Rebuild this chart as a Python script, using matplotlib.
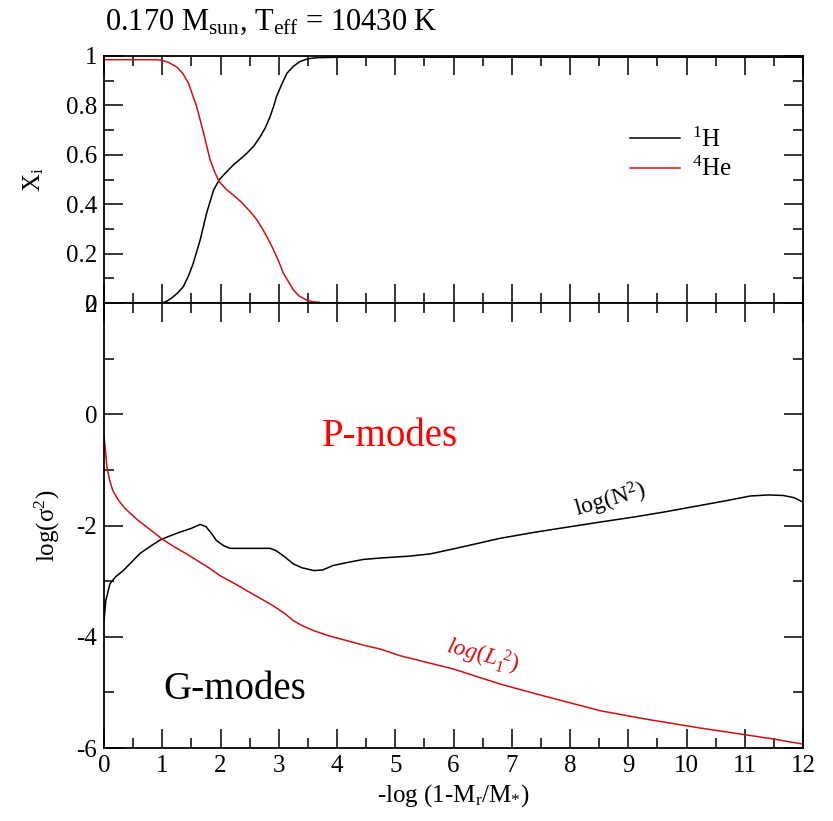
import matplotlib
matplotlib.use("Agg")
import matplotlib.pyplot as plt
from matplotlib.ticker import MultipleLocator, FixedLocator, FixedFormatter

plt.rcParams["font.family"] = ["Liberation Serif", "DejaVu Serif"]
plt.rcParams["mathtext.fontset"] = "custom"
plt.rcParams["mathtext.rm"] = "Liberation Serif"
plt.rcParams["mathtext.it"] = "Liberation Serif:italic"
plt.rcParams["axes.unicode_minus"] = False

# ---- data: composition profile (top)
h_x = [0.0, 1.0, 1.08, 1.16, 1.26, 1.36, 1.45, 1.53, 1.65, 1.76, 1.88, 1.98, 2.1, 2.22,
       2.35, 2.45, 2.57, 2.68, 2.77, 2.85, 2.91, 2.96, 3.05, 3.14, 3.25, 3.36, 3.45,
       3.54, 3.65, 4.0, 12.0]
h_y = [0.0, 0.0, 0.008, 0.02, 0.04, 0.066, 0.11, 0.16, 0.255, 0.363, 0.457, 0.5, 0.53,
       0.559, 0.585, 0.606, 0.635, 0.673, 0.71, 0.754, 0.795, 0.835, 0.885, 0.93, 0.958,
       0.977, 0.985, 0.99, 0.993, 0.995, 0.995]
he_x = [0.0, 0.5, 0.9, 1.0, 1.1, 1.25, 1.35, 1.45, 1.59, 1.71, 1.82, 1.9, 1.98, 2.1,
        2.22, 2.35, 2.51, 2.63, 2.73, 2.82, 2.91, 3.0, 3.08, 3.17, 3.25, 3.35, 3.48,
        3.58, 3.7]
he_y = [0.985, 0.985, 0.985, 0.982, 0.975, 0.955, 0.93, 0.89, 0.795, 0.687, 0.58, 0.53,
        0.49, 0.46, 0.437, 0.41, 0.37, 0.335, 0.296, 0.258, 0.215, 0.168, 0.12, 0.085,
        0.053, 0.028, 0.012, 0.005, 0.003]

# ---- data: propagation diagram (bottom)
n2_x = [0.0, 0.03, 0.1, 0.2, 0.33, 0.47, 0.62, 0.8, 0.98, 1.15, 1.3, 1.5, 1.65, 1.75,
        1.85, 1.93, 2.05, 2.16, 2.4, 2.6, 2.85, 2.95, 3.02, 3.12, 3.25, 3.4, 3.6, 3.75,
        3.93, 4.2, 4.45, 4.8, 5.25, 5.6, 6.0, 6.8, 7.4, 7.95, 8.5, 9.08, 9.6, 10.23,
        10.7, 11.09, 11.4, 11.66, 11.85, 12.0]
n2_y = [-3.72, -3.35, -3.05, -2.92, -2.81, -2.66, -2.5, -2.37, -2.25, -2.18, -2.12, -2.05,
        -1.98, -2.02, -2.15, -2.27, -2.36, -2.41, -2.41, -2.41, -2.41, -2.45, -2.5, -2.58,
        -2.69, -2.76, -2.81, -2.8, -2.72, -2.66, -2.61, -2.58, -2.55, -2.51, -2.42, -2.23,
        -2.12, -2.03, -1.94, -1.85, -1.76, -1.64, -1.55, -1.47, -1.45, -1.46, -1.5, -1.58]
l2_x = [0.0, 0.02, 0.05, 0.1, 0.15, 0.25, 0.35, 0.45, 0.6, 0.8, 0.98, 1.2, 1.4, 1.6,
        1.8, 1.99, 2.2, 2.45, 2.7, 2.9, 3.1, 3.25, 3.4, 3.6, 3.85, 4.17, 4.45, 4.74,
        5.08, 5.5, 6.0, 6.8, 7.5, 8.52, 9.3, 10.23, 11.0, 11.5, 12.0]
l2_y = [-0.4, -0.6, -0.95, -1.2, -1.37, -1.55, -1.68, -1.78, -1.92, -2.08, -2.23, -2.38,
        -2.5, -2.63, -2.76, -2.9, -3.02, -3.17, -3.32, -3.44, -3.58, -3.71, -3.8, -3.89,
        -3.98, -4.07, -4.15, -4.22, -4.34, -4.45, -4.58, -4.85, -5.05, -5.33, -5.48,
        -5.64, -5.76, -5.84, -5.93]

top_ticks = [0, 0.2, 0.4, 0.6, 0.8, 1.0]
top_ticklabels = ["0", "0.2", "0.4", "0.6", "0.8", "1"]

RED = "#d01010"
FS = 18

fig = plt.figure(figsize=(8.33, 8.21), dpi=100)
ax1 = fig.add_axes([0.1249, 0.6309, 0.8391, 0.3009])
ax2 = fig.add_axes([0.1249, 0.0889, 0.8391, 0.5420])

for ax in (ax1, ax2):
    ax.set_xlim(0, 12)
    ax.xaxis.set_major_locator(MultipleLocator(1))
    ax.xaxis.set_minor_locator(MultipleLocator(0.5))
    ax.tick_params(which="both", direction="in", top=True, right=True,
                   width=1.1, labelsize=FS, pad=5)
    ax.tick_params(which="major", length=14)
    ax.tick_params(which="minor", length=7)
    for s in ax.spines.values():
        s.set_linewidth(1.3)

# top panel
ax1.plot(h_x, h_y, color="black", lw=1.1, label=r"$^{1}$H")
ax1.plot(he_x, he_y, color=RED, lw=1.1, label=r"$^{4}$He")
ax1.set_ylim(0, 1)
ax1.yaxis.set_major_locator(FixedLocator(top_ticks))
ax1.yaxis.set_major_formatter(FixedFormatter(top_ticklabels))
ax1.yaxis.set_minor_locator(MultipleLocator(0.1))
ax1.tick_params(labelbottom=False)
ax1.set_ylabel(r"X$_{\rm i}$", fontsize=FS, labelpad=14)
ax1.legend(loc="upper left", bbox_to_anchor=(0.72, 0.80), frameon=False, fontsize=FS,
           handlelength=2.0, handletextpad=0.5, labelspacing=0.2)

# bottom panel
ax2.plot(n2_x, n2_y, color="black", lw=1.1)
ax2.plot(l2_x, l2_y, color=RED, lw=1.1)
ax2.set_ylim(-6, 2)
ax2.yaxis.set_major_locator(MultipleLocator(2))
ax2.yaxis.set_minor_locator(MultipleLocator(1))
ax2.set_ylabel("log(σ$^2$)", fontsize=FS, labelpad=10)
ax2.set_xlabel(r"-log (1-M$_{\rm r}$/M$_{*}$)", fontsize=FS, labelpad=4)

ax2.text(4.9, -0.4, "P-modes", color="red", fontsize=28, ha="center", va="center")
ax2.text(2.25, -4.94, "G-modes", color="black", fontsize=28, ha="center", va="center")
ax2.text(8.69, -1.55, r"log(N$^2$)", fontsize=17, ha="center", va="center", rotation=16)
ax2.text(6.5, -4.34, r"$log(L_1^{\ 2})$", color=RED, fontsize=17, ha="center",
         va="center", rotation=-15)

fig.text(105 / 833, 1 - 22 / 821, r"0.170 M$_{\rm sun}$, T$_{\rm eff}$ = 10430 K",
         fontsize=22, ha="left", va="center")

fig.savefig("out.png", dpi=100)
